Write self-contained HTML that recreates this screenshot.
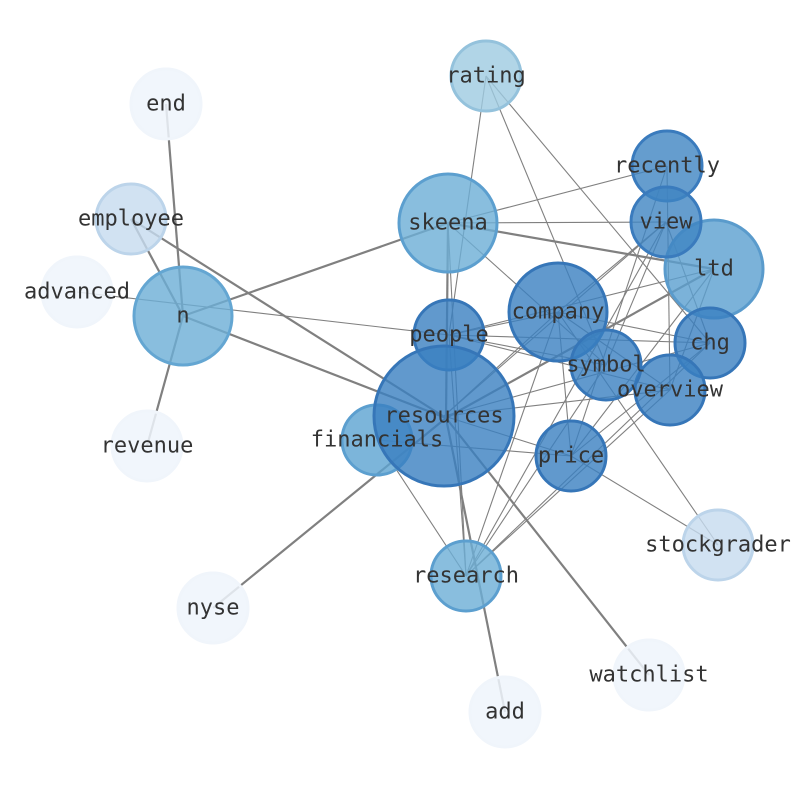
<!DOCTYPE html>
<html><head><meta charset="utf-8"><style>html,body{margin:0;padding:0;background:#fff}</style></head>
<body>
<svg width="794" height="790" xmlns="http://www.w3.org/2000/svg" font-family="DejaVu Sans Mono, Liberation Mono, monospace" font-size="22">
<g stroke="#808080" stroke-width="2.2" fill="none">
<line x1="166" y1="104" x2="183" y2="316"/>
<line x1="131" y1="219" x2="183" y2="316"/>
<line x1="131" y1="219" x2="446" y2="418"/>
<line x1="446" y1="418" x2="649" y2="675"/>
<line x1="183" y1="316" x2="147" y2="446"/>
<line x1="183" y1="316" x2="448" y2="223"/>
<line x1="183" y1="316" x2="446" y2="418"/>
<line x1="213" y1="608" x2="446" y2="418"/>
<line x1="446" y1="418" x2="714" y2="269"/>
<line x1="448" y1="223" x2="446" y2="418"/>
<line x1="446" y1="418" x2="505" y2="712"/>
<line x1="448" y1="223" x2="714" y2="269"/>
</g>
<g stroke="#808080" stroke-width="1.1" fill="none">
<line x1="77" y1="292" x2="449" y2="335"/>
<line x1="486" y1="76" x2="449" y2="335"/>
<line x1="486" y1="76" x2="606" y2="365"/>
<line x1="486" y1="76" x2="710" y2="343"/>
<line x1="667" y1="166" x2="448" y2="223"/>
<line x1="667" y1="166" x2="571" y2="456"/>
<line x1="667" y1="166" x2="670" y2="390"/>
<line x1="448" y1="223" x2="666" y2="222"/>
<line x1="448" y1="223" x2="606" y2="365"/>
<line x1="448" y1="223" x2="466" y2="576"/>
<line x1="666" y1="222" x2="444" y2="416"/>
<line x1="666" y1="222" x2="606" y2="365"/>
<line x1="666" y1="222" x2="710" y2="343"/>
<line x1="666" y1="222" x2="466" y2="576"/>
<line x1="666" y1="222" x2="558" y2="312"/>
<line x1="714" y1="269" x2="571" y2="456"/>
<line x1="714" y1="269" x2="449" y2="335"/>
<line x1="714" y1="269" x2="670" y2="390"/>
<line x1="558" y1="312" x2="444" y2="416"/>
<line x1="558" y1="312" x2="449" y2="335"/>
<line x1="558" y1="312" x2="710" y2="343"/>
<line x1="558" y1="312" x2="670" y2="390"/>
<line x1="558" y1="312" x2="571" y2="456"/>
<line x1="558" y1="312" x2="466" y2="576"/>
<line x1="558" y1="312" x2="718" y2="545"/>
<line x1="449" y1="335" x2="606" y2="365"/>
<line x1="449" y1="335" x2="670" y2="390"/>
<line x1="449" y1="335" x2="710" y2="343"/>
<line x1="449" y1="335" x2="466" y2="576"/>
<line x1="444" y1="416" x2="571" y2="456"/>
<line x1="444" y1="416" x2="710" y2="343"/>
<line x1="444" y1="416" x2="670" y2="390"/>
<line x1="377" y1="440" x2="571" y2="456"/>
<line x1="571" y1="456" x2="718" y2="545"/>
<line x1="377" y1="440" x2="466" y2="576"/>
<line x1="466" y1="576" x2="710" y2="343"/>
<line x1="466" y1="576" x2="670" y2="390"/>
<line x1="466" y1="576" x2="606" y2="365"/>
<line x1="571" y1="456" x2="710" y2="343"/>
</g>
<g stroke-width="3">
<circle cx="166" cy="104" r="35" fill="#eef4fb" stroke="#f0f5fb" fill-opacity="0.85"/>
<circle cx="77" cy="292" r="35" fill="#eef4fb" stroke="#f0f5fb" fill-opacity="0.85"/>
<circle cx="147" cy="446" r="35" fill="#eef4fb" stroke="#f0f5fb" fill-opacity="0.85"/>
<circle cx="213" cy="608" r="35" fill="#eef4fb" stroke="#f0f5fb" fill-opacity="0.85"/>
<circle cx="649" cy="675" r="35" fill="#eef4fb" stroke="#f0f5fb" fill-opacity="0.85"/>
<circle cx="505" cy="712" r="35" fill="#eef4fb" stroke="#f0f5fb" fill-opacity="0.85"/>
<circle cx="131" cy="219" r="35" fill="#c6dbef" stroke="#bcd4ea" fill-opacity="0.8"/>
<circle cx="718" cy="545" r="35" fill="#c6dbef" stroke="#bcd4ea" fill-opacity="0.8"/>
<circle cx="486" cy="76" r="35" fill="#9ecae1" stroke="#94c2dc" fill-opacity="0.8"/>
<circle cx="183" cy="316" r="49" fill="#6baed6" stroke="#64a6d2" fill-opacity="0.8"/>
<circle cx="448" cy="223" r="49" fill="#6baed6" stroke="#5c9fcf" fill-opacity="0.8"/>
<circle cx="714" cy="269" r="49" fill="#5a9fd0" stroke="#5a9bcc" fill-opacity="0.8"/>
<circle cx="377" cy="440" r="35" fill="#5ba3d1" stroke="#5c9fcf" fill-opacity="0.8"/>
<circle cx="466" cy="576" r="35" fill="#6baed6" stroke="#5c9fcf" fill-opacity="0.8"/>
<circle cx="667" cy="166" r="35" fill="#3f84c2" stroke="#3a7bbd" fill-opacity="0.8"/>
<circle cx="666" cy="222" r="35" fill="#3f84c2" stroke="#3a7bbd" fill-opacity="0.8"/>
<circle cx="558" cy="312" r="49" fill="#3a7fc0" stroke="#3676b8" fill-opacity="0.8"/>
<circle cx="710" cy="343" r="35" fill="#3a7fc0" stroke="#3676b8" fill-opacity="0.8"/>
<circle cx="670" cy="390" r="35" fill="#3a7fc0" stroke="#3676b8" fill-opacity="0.8"/>
<circle cx="606" cy="365" r="35" fill="#3a7fc0" stroke="#3676b8" fill-opacity="0.8"/>
<circle cx="571" cy="456" r="35" fill="#3a7fc0" stroke="#3676b8" fill-opacity="0.8"/>
<circle cx="449" cy="335" r="35" fill="#3a7fc0" stroke="#3676b8" fill-opacity="0.8"/>
<circle cx="444" cy="416" r="70" fill="#3a7fc0" stroke="#3676b8" fill-opacity="0.8"/>
</g>
<g fill="#333" text-anchor="middle" dominant-baseline="central">
<text x="166" y="104">end</text>
<text x="131" y="219">employee</text>
<text x="77" y="292">advanced</text>
<text x="183" y="316">n</text>
<text x="147" y="446">revenue</text>
<text x="213" y="608">nyse</text>
<text x="486" y="76">rating</text>
<text x="667" y="166">recently</text>
<text x="448" y="223">skeena</text>
<text x="666" y="222">view</text>
<text x="714" y="269">ltd</text>
<text x="558" y="312">company</text>
<text x="449" y="335">people</text>
<text x="710" y="343">chg</text>
<text x="606" y="365">symbol</text>
<text x="670" y="390">overview</text>
<text x="444" y="416">resources</text>
<text x="377" y="440">financials</text>
<text x="571" y="456">price</text>
<text x="718" y="545">stockgrader</text>
<text x="466" y="576">research</text>
<text x="649" y="675">watchlist</text>
<text x="505" y="712">add</text>
</g>
</svg>
</body></html>
